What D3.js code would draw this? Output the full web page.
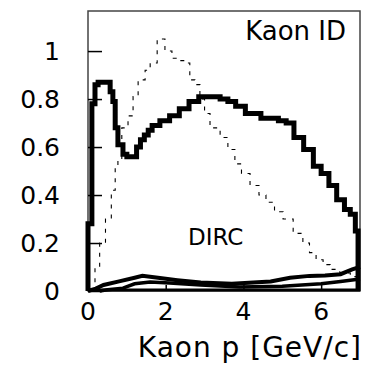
<!DOCTYPE html>
<meta charset="utf-8">
<style>
body { margin: 0; background: white; }
svg { display: block; }
text { font-family: "DejaVu Sans", sans-serif; fill: black; }
</style>
<svg width="366" height="365"></svg>
<script src="https://d3js.org/d3.v7.min.js"></script>
<script>
// kaon efficiency in the DIRC (thick histogram)
var effP   = [0, 0, 0.1, 0.18, 0.26, 0.57, 0.64, 0.7, 0.77, 0.9, 1.0, 1.25, 1.35, 1.45, 1.55, 1.65, 1.85, 2.1, 2.35, 2.6, 2.85, 3.15, 3.4, 3.6, 3.8, 4.05, 4.45, 4.7, 4.9, 5.1, 5.3, 5.55, 5.8, 6.0, 6.2, 6.4, 6.6, 6.75, 6.88, 6.95];
var effVal = [0, 0.28, 0.78, 0.86, 0.87, 0.83, 0.79, 0.68, 0.61, 0.57, 0.56, 0.6, 0.63, 0.65, 0.67, 0.69, 0.71, 0.73, 0.76, 0.79, 0.81, 0.81, 0.8, 0.79, 0.77, 0.74, 0.72, 0.72, 0.71, 0.7, 0.64, 0.59, 0.52, 0.49, 0.44, 0.38, 0.34, 0.32, 0.25, 0];

// dashed histogram
var dashP   = [0.15, 0.18, 0.3, 0.45, 0.6, 0.7, 0.77, 0.87, 1.03, 1.16, 1.29, 1.47, 1.6, 1.78, 1.98, 2.16, 2.37, 2.5, 2.62, 2.75, 2.88, 3.0, 3.14, 3.4, 3.6, 3.78, 3.95, 4.17, 4.4, 4.58, 4.8, 5.02, 5.28, 5.53, 5.7, 5.87, 6.05, 6.23, 6.48, 6.75, 7.0];
var dashVal = [0, 0.1, 0.2, 0.3, 0.42, 0.52, 0.55, 0.68, 0.73, 0.81, 0.88, 0.92, 0.95, 1.05, 1.0, 0.97, 0.96, 0.95, 0.88, 0.86, 0.8, 0.74, 0.68, 0.64, 0.59, 0.53, 0.49, 0.44, 0.4, 0.37, 0.33, 0.3, 0.24, 0.2, 0.16, 0.13, 0.11, 0.09, 0.075, 0.06, 0.05];

// mis-id curves near zero
var misP1   = [0, 0.2, 0.4, 0.8, 1.2, 1.4, 1.8, 2.3, 2.9, 3.7, 4.7, 5.2, 5.7, 6.1, 6.5, 6.8, 7.0];
var misVal1 = [0, 0.01, 0.025, 0.04, 0.055, 0.063, 0.055, 0.045, 0.035, 0.03, 0.04, 0.055, 0.063, 0.065, 0.07, 0.09, 0.1];
var misP2   = [0.3, 0.5, 0.9, 1.2, 1.6, 2.1, 2.9, 3.9, 5.0, 5.5, 6.0, 6.5, 7.0];
var misVal2 = [0, 0.005, 0.012, 0.03, 0.037, 0.033, 0.025, 0.017, 0.02, 0.025, 0.03, 0.04, 0.05];

var xTicks = [0, 2, 4, 6];
var yTicks = [0, 0.2, 0.4, 0.6, 0.8, 1];

var svg = d3.select("svg");
var plotL = 88, plotT = 11, plotR = 360, plotB = 291;

var x = d3.scaleLinear().domain([0, 7]).range([plotL, plotR]);
var y = d3.scaleLinear().domain([0, 1.167]).range([plotB, plotT]);

function pts(xs, ys) { return xs.map(function(v, i) { return [v, ys[i]]; }); }

var stepLine = d3.line().x(function(d) { return x(d[0]); }).y(function(d) { return y(d[1]); }).curve(d3.curveStepAfter);
var smoothLine = d3.line().x(function(d) { return x(d[0]); }).y(function(d) { return y(d[1]); });

// frame
svg.append("rect")
  .attr("x", plotL).attr("y", plotT)
  .attr("width", plotR - plotL).attr("height", plotB - plotT)
  .attr("fill", "none").attr("stroke", "#444").attr("stroke-width", 1.5);

// axes (ticks inward)
var yAxis = d3.axisRight(y).tickValues(yTicks).tickSize(14).tickFormat("");
svg.append("g").attr("transform", "translate(" + plotL + ",0)").call(yAxis);
var xAxis = d3.axisTop(x).tickValues(xTicks).tickSize(6).tickFormat("");
svg.append("g").attr("transform", "translate(0," + plotB + ")").call(xAxis);
svg.selectAll(".domain").remove();
svg.selectAll(".tick line").attr("stroke", "black").attr("stroke-width", 1.5);

// tick labels
svg.selectAll(".ylab").data(yTicks).enter().append("text")
  .attr("x", 60).attr("y", function(d) { return y(d) + 9; })
  .attr("text-anchor", "end").attr("font-size", 25)
  .text(function(d) { return d === 0 ? "0" : d === 1 ? "1" : d3.format(".1f")(d); });

svg.selectAll(".xlab").data(xTicks).enter().append("text")
  .attr("x", function(d) { return x(d); }).attr("y", 320)
  .attr("text-anchor", "middle").attr("font-size", 25)
  .text(function(d) { return d; });

// curves
svg.append("path").attr("d", stepLine(pts(dashP, dashVal)))
  .attr("fill", "none").attr("stroke", "black").attr("stroke-width", 1.1)
  .attr("stroke-dasharray", "4,6");

svg.append("path").attr("d", smoothLine(pts(misP1, misVal1)))
  .attr("fill", "none").attr("stroke", "black").attr("stroke-width", 4);
svg.append("path").attr("d", smoothLine(pts(misP2, misVal2)))
  .attr("fill", "none").attr("stroke", "black").attr("stroke-width", 3.5);

svg.append("path").attr("d", stepLine(pts(effP, effVal)))
  .attr("fill", "none").attr("stroke", "black").attr("stroke-width", 5)
  .attr("stroke-linejoin", "miter");

// bottom zero line
svg.append("line").attr("x1", plotL).attr("x2", plotR).attr("y1", plotB - 1).attr("y2", plotB - 1)
  .attr("stroke", "black").attr("stroke-width", 3);

// labels
svg.append("text").attr("x", 346).attr("y", 40).attr("text-anchor", "end")
  .attr("font-size", 26).text("Kaon ID");
svg.append("text").attr("x", 188).attr("y", 245)
  .attr("font-size", 23).text("DIRC");
svg.append("text").attr("x", 362).attr("y", 357).attr("text-anchor", "end")
  .attr("font-size", 28).attr("letter-spacing", 1).text("Kaon p [GeV/c]");
</script>
